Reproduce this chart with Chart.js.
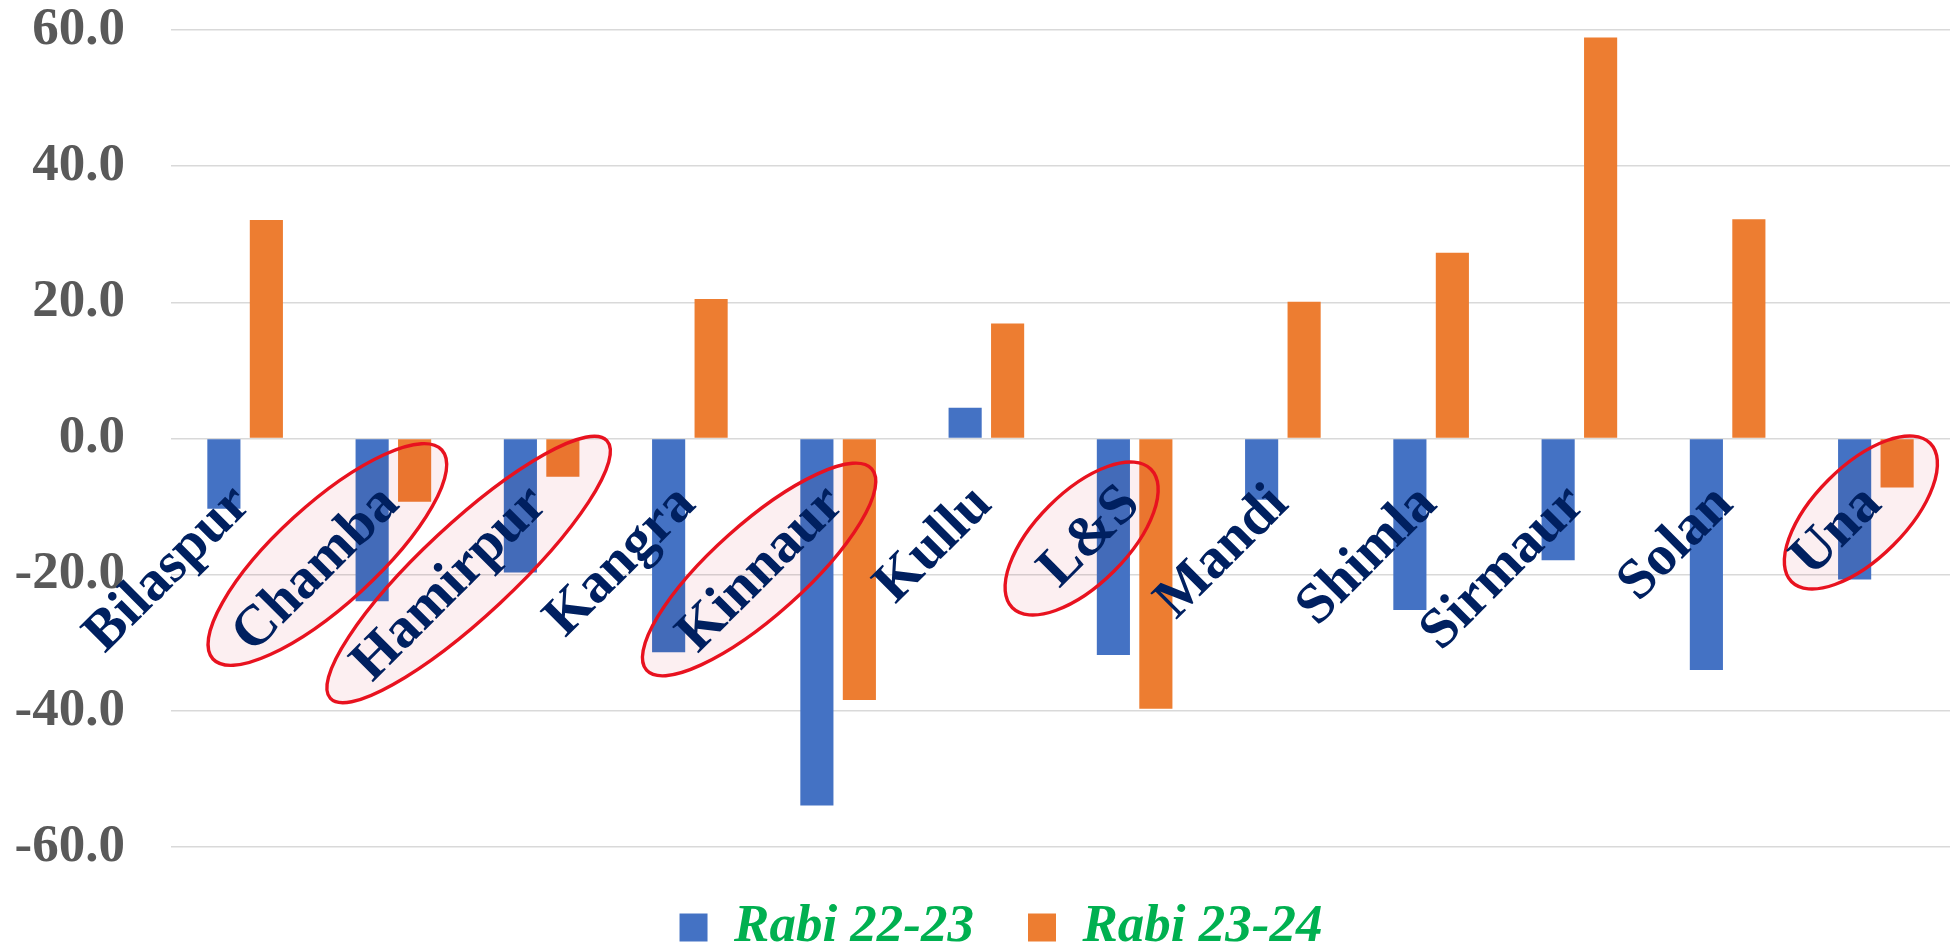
<!DOCTYPE html>
<html>
<head>
<meta charset="utf-8">
<title>Rabi 22-23 vs Rabi 23-24 by district</title>
<script src="https://cdn.jsdelivr.net/npm/chart.js@4.4.1/dist/chart.umd.min.js"></script>
<style>
  html, body { margin: 0; padding: 0; background: #ffffff; overflow: hidden; }
  #wrap { width: 1952px; height: 949px; position: relative; }
</style>
</head>
<body>
<div id="wrap"><canvas id="chart"></canvas></div>
<script>
// ---- data ----
const districts = ['Bilaspur', 'Chamba', 'Hamirpur', 'Kangra', 'Kinnaur', 'Kullu', 'L&S', 'Mandi', 'Shimla', 'Sirmaur', 'Solan', 'Una'];
const rabi2223 = [-10.3, -23.9, -19.7, -31.4, -53.9, 4.5, -31.8, -9.0, -25.2, -17.9, -34.0, -20.7];
const rabi2324 = [32.1, -9.3, -5.6, 20.5, -38.4, 16.9, -39.7, 20.1, 27.3, 58.9, 32.2, -7.2];
const seriesNames = ['Rabi 22-23', 'Rabi 23-24'];
const yTicks = [-60, -40, -20, 0, 20, 40, 60];
const circled = ['Chamba', 'Hamirpur', 'Kinnaur', 'L&S', 'Una'];

// ---- highlight rings: offset from the category tick on the zero line, radii, tilt ----
const ringShape = {
  'Chamba':   { dx: -66, dy: 116, rx: 155, ry: 50, deg: -42.4 },
  'Hamirpur': { dx: -73, dy: 131, rx: 189, ry: 46, deg: -43 },
  'Kinnaur':  { dx: -79, dy: 131, rx: 151, ry: 46, deg: -41.8 },
  'L&S':      { dx: -53, dy: 100, rx: 98,  ry: 46, deg: -45 },
  'Una':      { dx: -15, dy: 74,  rx: 98,  ry: 46, deg: -45 }
};

const SERIF = '"Liberation Serif", "Times New Roman", Times, serif';

const ringPlugin = {
  id: 'rings',
  afterDatasetsDraw(chart) {
    const { ctx, scales: { x, y } } = chart;
    const zeroY = y.getPixelForValue(0);
    ctx.save();
    circled.forEach(name => {
      const idx = districts.indexOf(name);
      const s = ringShape[name];
      if (idx < 0 || !s) return;
      const cx = x.getPixelForValue(idx) + s.dx;
      const cy = zeroY + s.dy;
      ctx.beginPath();
      ctx.ellipse(cx, cy, s.rx, s.ry, s.deg * Math.PI / 180, 0, Math.PI * 2);
      ctx.globalCompositeOperation = 'multiply';
      ctx.fillStyle = '#fceff1';
      ctx.fill();
      ctx.globalCompositeOperation = 'source-over';
      ctx.lineWidth = 3.4;
      ctx.strokeStyle = '#e8121f';
      ctx.stroke();
    });
    ctx.restore();
  }
};

// centre the legend row slightly right of the canvas middle
const legendNudge = {
  id: 'legendNudge',
  afterLayout(chart) {
    const lg = chart.legend;
    if (lg) { lg.left += 20; lg.right += 20; }
  }
};

new Chart(document.getElementById('chart'), {
  type: 'bar',
  data: {
    labels: districts,
    datasets: [
      { label: seriesNames[0], data: rabi2223, backgroundColor: '#4472c4', borderWidth: 0,
        categoryPercentage: 0.573, barPercentage: 0.78 },
      { label: seriesNames[1], data: rabi2324, backgroundColor: '#ed7d31', borderWidth: 0,
        categoryPercentage: 0.573, barPercentage: 0.78 }
    ]
  },
  options: {
    responsive: true,
    maintainAspectRatio: false,
    animation: false,
    layout: { padding: { left: 12, right: 2, top: 30, bottom: -15 } },
    plugins: {
      tooltip: { enabled: false },
      legend: {
        position: 'bottom',
        labels: {
          boxWidth: 28,
          boxHeight: 28,
          padding: 54,
          color: '#00b050',
          font: { family: SERIF, size: 53, weight: 'bold', style: 'italic', lineHeight: 1 }
        }
      }
    },
    scales: {
      x: {
        type: 'category',
        position: { y: 0 },
        offset: true,
        grid: { display: false, drawTicks: false },
        border: { display: false },
        afterFit(scale) {
          // labels sit inside the plot, so the axis takes no room of its own
          scale.height = 0;
          scale.paddingLeft = 0;
          scale.paddingRight = 0;
        },
        ticks: {
          autoSkip: false,
          minRotation: 45,
          maxRotation: 45,
          padding: 33,
          labelOffset: -3,
          z: 1,
          color: '#002060',
          font: { family: SERIF, size: 57, weight: 'bold', lineHeight: 1.2 }
        }
      },
      y: {
        min: -60,
        max: 60,
        afterBuildTicks(scale) { scale.ticks = yTicks.map(v => ({ value: v })); },
        afterFit(scale) {
          scale.width = 159;
          scale.paddingTop = 26;
          scale.paddingBottom = 26;
        },
        grid: { color: '#d9d9d9', lineWidth: 1.5, drawTicks: false },
        border: { display: false },
        ticks: {
          padding: 46,
          color: '#595959',
          font: { family: SERIF, size: 53, weight: 'bold', lineHeight: 1 },
          callback: v => Number(v).toFixed(1)
        }
      }
    }
  },
  plugins: [ringPlugin, legendNudge]
});
</script>
</body>
</html>
